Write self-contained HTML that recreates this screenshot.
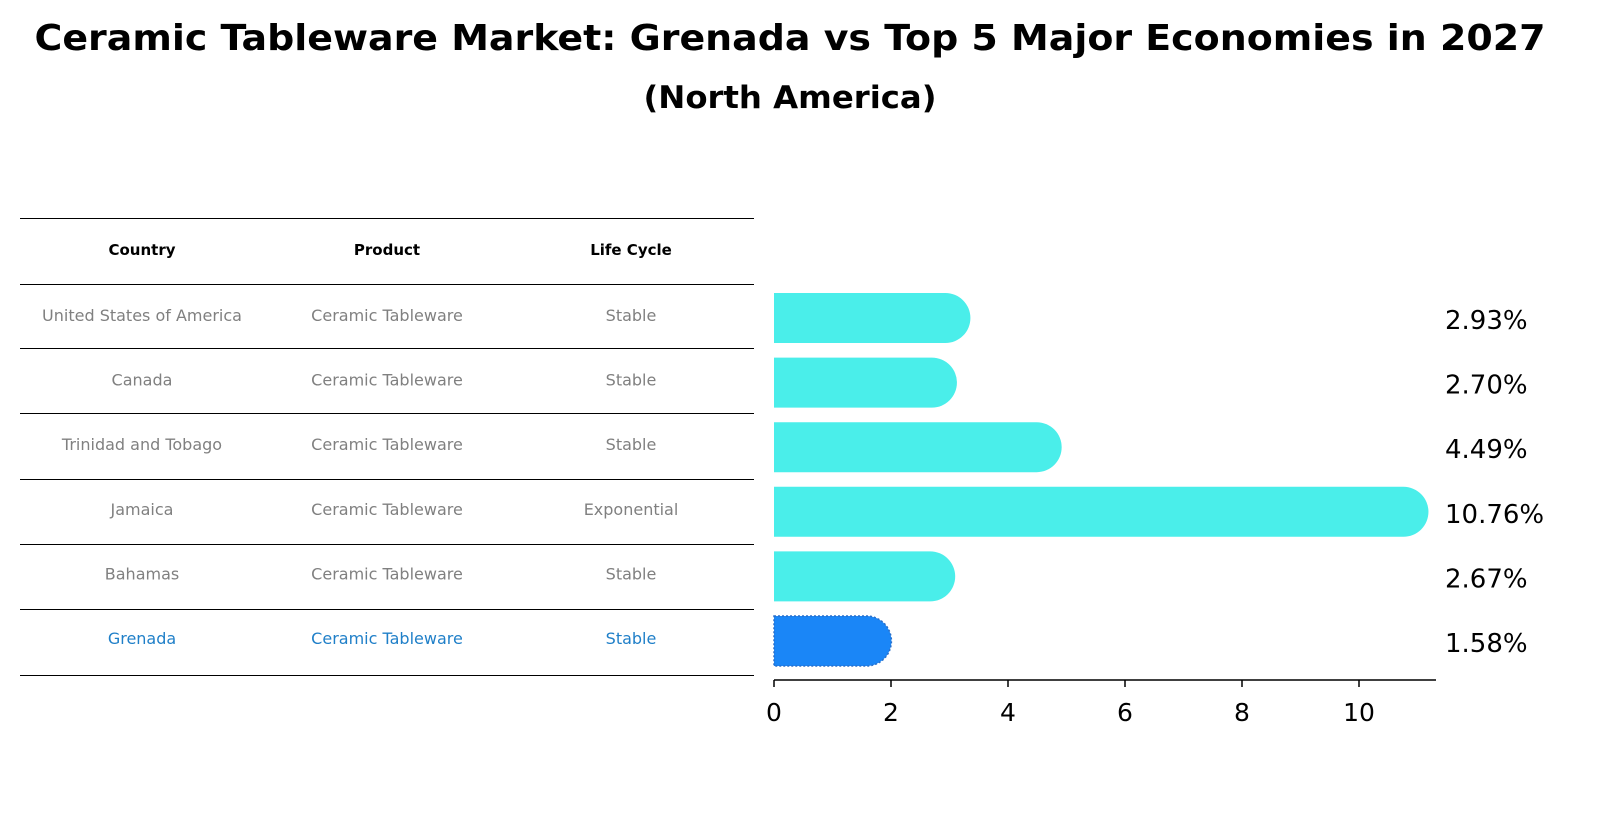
<!DOCTYPE html>
<html><head><meta charset="utf-8"><style>
html,body{margin:0;padding:0;background:#fff;width:1604px;height:823px;overflow:hidden}
svg{display:block}
</style></head><body>
<svg width="1604" height="823" viewBox="0 0 1604 823" xmlns="http://www.w3.org/2000/svg" font-family="DejaVu Sans, Liberation Sans, sans-serif">
<text x="790" y="50" text-anchor="middle" font-size="36" font-weight="bold" textLength="1511" lengthAdjust="spacingAndGlyphs">Ceramic Tableware Market: Grenada vs Top 5 Major Economies in 2027</text>
<text x="790" y="108" text-anchor="middle" font-size="31" font-weight="bold" textLength="293" lengthAdjust="spacingAndGlyphs">(North America)</text>
<g id="table"></g>
<g id="bars"></g>
</svg>
<script>
const countries=["United States of America","Canada","Trinidad and Tobago","Jamaica","Bahamas","Grenada"];
const products=["Ceramic Tableware","Ceramic Tableware","Ceramic Tableware","Ceramic Tableware","Ceramic Tableware","Ceramic Tableware"];
const lifecycles=["Stable","Stable","Stable","Exponential","Stable","Stable"];
const values=[2.93,2.70,4.49,10.76,2.67,1.58];
const ticks=[0,2,4,6,8,10];
const NS="http://www.w3.org/2000/svg";
function mk(t,a,p,txt){const e=document.createElementNS(NS,t);for(const k in a)e.setAttribute(k,a[k]);if(txt!==undefined)e.textContent=txt;p.appendChild(e);return e;}
const X=v=>774+v*58.5;
const rowY=i=>316+i*64.6;
const tbl=document.getElementById('table');
const lineYs=[218,284,348,413,479,544,609,675];
lineYs.forEach(y=>{const l=mk('line',{x1:20,x2:754,y1:y+0.5,y2:y+0.5,stroke:'#000','stroke-width':1},tbl);

});
const colX=[142,387,631];
["Country","Product","Life Cycle"].forEach((h,j)=>{const t=mk('text',{x:colX[j],y:255,'text-anchor':'middle','font-size':15,'font-weight':'bold'},tbl,h);

});
countries.forEach((c,i)=>{
 const y=rowY(i)+5;const col=i===countries.length-1?'#1f7fc8':'#808080';
 [c,products[i],lifecycles[i]].forEach((s,j)=>{const t=mk('text',{x:colX[j],y:y,'text-anchor':'middle','font-size':16,fill:col},tbl,s);
 
 });
});
const g=document.getElementById('bars');
const r=25;
values.forEach((v,i)=>{
 const cy=rowY(i)+2;const last=i===values.length-1;
 const x1=X(v);
 const d=`M${X(0)},${cy-r} L${x1},${cy-r} A${r},${r} 0 0 1 ${x1},${cy+r} L${X(0)},${cy+r} Z`;
 const p=mk('path',{d:d,fill:last?'#1a86f7':'#4aeeea',stroke:last?'#2a6fc9':'none','stroke-width':last?1.5:0,'stroke-dasharray':last?'2,2':''},g);
 
 
 const t=mk('text',{x:1445,y:cy+11,'font-size':26},g,v.toFixed(2)+'%');
 
 
});
const ax=mk('line',{x1:774,x2:1436,y1:680,y2:680,stroke:'#000','stroke-width':1.5},g);


ticks.forEach(v=>{
 const tk=mk('line',{x1:X(v),x2:X(v),y1:680,y2:687,stroke:'#000','stroke-width':1.5},g);
 
 
 const tl=mk('text',{x:X(v),y:721,'text-anchor':'middle','font-size':25},g,String(v));
 
 
});
</script>
</body></html>
